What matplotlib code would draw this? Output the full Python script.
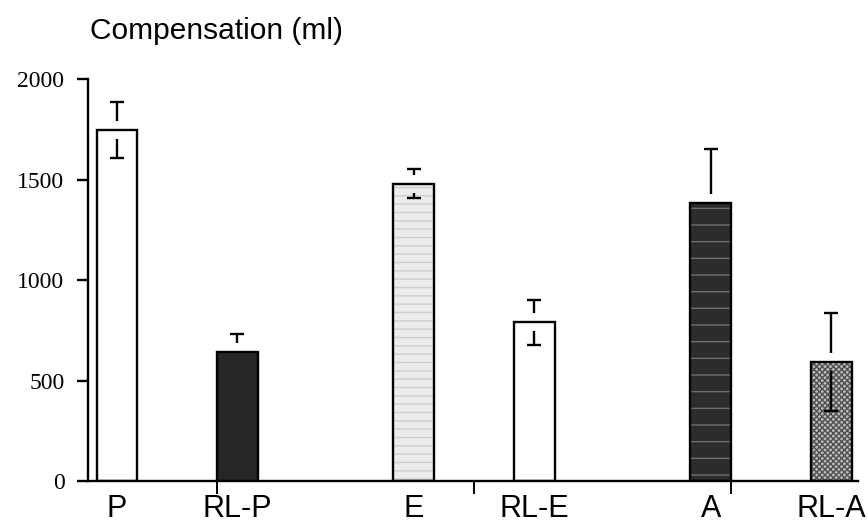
import numpy as np
import matplotlib
matplotlib.use("Agg")
import matplotlib.pyplot as plt

labels = ["P", "RL-P", "E", "RL-E", "A", "RL-A"]
means = [1745, 640, 1478, 790, 1383, 592]
sem = [140, 90, 72, 112, 270, 245]
show_lower = [True, False, True, True, False, True]
yticks = [0, 500, 1000, 1500, 2000]

faces = ["white", "#262626", "#ececec", "white", "#2c2c2c", "#bcbcbc"]
hatch_cols = ["white", "#262626", "#cfcfcf", "white", "#6e6e6e", "#505050"]
hatches = [None, None, "--", None, "-", "xxxxxx"]

# pairs: drug bar then RL bar, groups one unit apart
group = np.repeat(np.arange(3), 2)
pos = group + np.tile([0, 0.405], 3)
width = 0.138
gap = 45      # whisker starts a little above/below the bar top
cap = 0.024

fig = plt.figure(figsize=(8.68, 5.25), dpi=100)
ax = fig.add_axes([0.1014, 0.0838, 0.887, 0.7657])

for i in range(len(labels)):
    ax.bar(pos[i], means[i], width, color=faces[i], edgecolor=hatch_cols[i],
           hatch=hatches[i], linewidth=0, zorder=2)
    ax.bar(pos[i], means[i], width, fill=False, edgecolor="black",
           linewidth=1.7, zorder=3)
    top = means[i] + sem[i]
    ax.vlines(pos[i], means[i] + gap, top, color="black", lw=1.7, zorder=4)
    ax.hlines(top, pos[i] - cap, pos[i] + cap, color="black", lw=1.7, zorder=4)
    if show_lower[i]:
        low = means[i] - sem[i]
        ax.vlines(pos[i], low, means[i] - gap, color="black", lw=1.7, zorder=4)
        ax.hlines(low, pos[i] - cap, pos[i] + cap, color="black", lw=1.7, zorder=4)

ax.set_xlim(-0.0976, 2.495)
ax.set_ylim(0, 2000)
ax.spines["top"].set_visible(False)
ax.spines["right"].set_visible(False)
ax.spines["left"].set_linewidth(1.7)
ax.spines["bottom"].set_linewidth(1.7)

ax.set_yticks(yticks)
ax.set_yticklabels([str(v) for v in yticks], family="Liberation Serif", fontsize=17)
ax.tick_params(axis="y", direction="out", length=8, width=1.7, pad=9)

ax.set_xticks(pos)
ax.set_xticklabels(labels, family="Liberation Sans", fontsize=22)
ax.tick_params(axis="x", which="major", length=0, pad=9)
ax.set_xticks([0.337, 1.202, 2.067], minor=True)
ax.tick_params(axis="x", which="minor", direction="out", length=9, width=1.4)

fig.text(0.104, 0.9257, "Compensation (ml)", family="Liberation Sans",
         fontsize=21.5, va="baseline", ha="left")

fig.savefig("out.png", dpi=100)
